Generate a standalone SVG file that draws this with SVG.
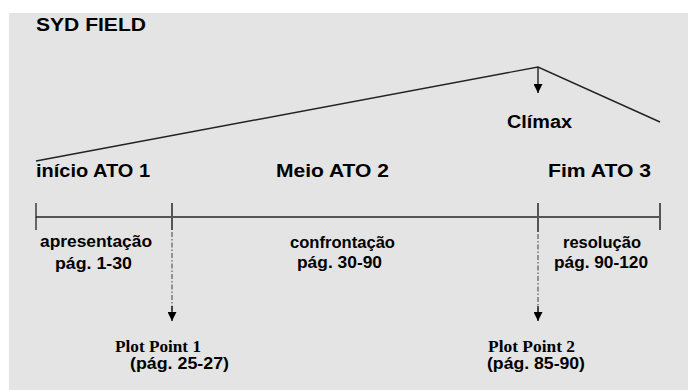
<svg xmlns="http://www.w3.org/2000/svg" width="688" height="390" viewBox="0 0 688 390">
<defs>
<style>
.s{font-family:"Liberation Sans",Arial,sans-serif;font-weight:bold;fill:#000}
.big{font-size:18px}
.sm{font-size:16px}
.pp{font-family:"Liberation Serif","Times New Roman",serif;font-weight:bold;font-size:17px;fill:#000}
.ln{stroke:#555;stroke-width:2;fill:none}
.tk{stroke:#111;stroke-width:1.2;fill:none}
.dd{stroke:#777;stroke-width:1.5;stroke-dasharray:5,2,1.5,2;fill:none}
.cl{stroke:#222;stroke-width:1.4;fill:none}
</style>
<marker id="ah" viewBox="0 0 10 10" refX="10" refY="5" markerWidth="9" markerHeight="9" markerUnits="userSpaceOnUse" orient="auto">
<path d="M0,0 L10,5 L0,10 z" fill="#000"/>
</marker>
</defs>
<rect x="0" y="0" width="688" height="390" fill="#ffffff"/>
<rect x="9" y="13" width="679" height="377" fill="#e4e4e4"/>
<g id="title"><text class="s" x="36" y="31" font-size="19" textLength="110" lengthAdjust="spacingAndGlyphs">SYD FIELD</text></g>
<g id="connectors">
<polyline class="cl" points="36,161 538,67 660,122"/>
<line class="cl" x1="538" y1="67" x2="538" y2="93" marker-end="url(#ah)"/>
<line class="ln" x1="36" y1="217" x2="660" y2="217"/>
<line class="tk" x1="36" y1="203" x2="36" y2="230"/>
<line class="ln" x1="172" y1="203" x2="172" y2="230"/>
<line class="ln" x1="538" y1="203" x2="538" y2="232"/>
<line class="ln" x1="660" y1="203" x2="660" y2="230"/>
<line class="dd" x1="172" y1="232" x2="172" y2="312"/>
<line class="cl" x1="172" y1="306" x2="172" y2="321" marker-end="url(#ah)"/>
<line class="dd" x1="538" y1="234" x2="538" y2="312"/>
<line class="cl" x1="538" y1="306" x2="538" y2="321" marker-end="url(#ah)"/>
</g>
<g id="climax"><text class="s big" x="507" y="128" textLength="65" lengthAdjust="spacingAndGlyphs">Clímax</text></g>
<g id="ato1"><text class="s big" x="36" y="177" textLength="114" lengthAdjust="spacingAndGlyphs">início ATO 1</text></g>
<g id="ato2"><text class="s big" x="276" y="177" textLength="113" lengthAdjust="spacingAndGlyphs">Meio ATO 2</text></g>
<g id="ato3"><text class="s big" x="548" y="177" textLength="103" lengthAdjust="spacingAndGlyphs">Fim ATO 3</text></g>
<g id="apresentacao">
<text class="s sm" x="40" y="247" textLength="112" lengthAdjust="spacingAndGlyphs">apresentação</text>
<text class="s sm" x="55" y="269" textLength="77" lengthAdjust="spacingAndGlyphs">pág. 1-30</text>
</g>
<g id="confrontacao">
<text class="s sm" x="290" y="248" textLength="105" lengthAdjust="spacingAndGlyphs">confrontação</text>
<text class="s sm" x="297" y="268" textLength="85" lengthAdjust="spacingAndGlyphs">pág. 30-90</text>
</g>
<g id="resolucao">
<text class="s sm" x="563" y="248" textLength="78" lengthAdjust="spacingAndGlyphs">resolução</text>
<text class="s sm" x="554" y="268" textLength="94" lengthAdjust="spacingAndGlyphs">pág. 90-120</text>
</g>
<g id="plotpoint1">
<text class="pp" x="115" y="352" textLength="86" lengthAdjust="spacingAndGlyphs">Plot Point 1</text>
<text class="s sm" x="130" y="369" textLength="99" lengthAdjust="spacingAndGlyphs">(pág. 25-27)</text>
</g>
<g id="plotpoint2">
<text class="pp" x="488" y="352" textLength="87" lengthAdjust="spacingAndGlyphs">Plot Point 2</text>
<text class="s sm" x="487" y="369" textLength="98" lengthAdjust="spacingAndGlyphs">(pág. 85-90)</text>
</g>
</svg>
